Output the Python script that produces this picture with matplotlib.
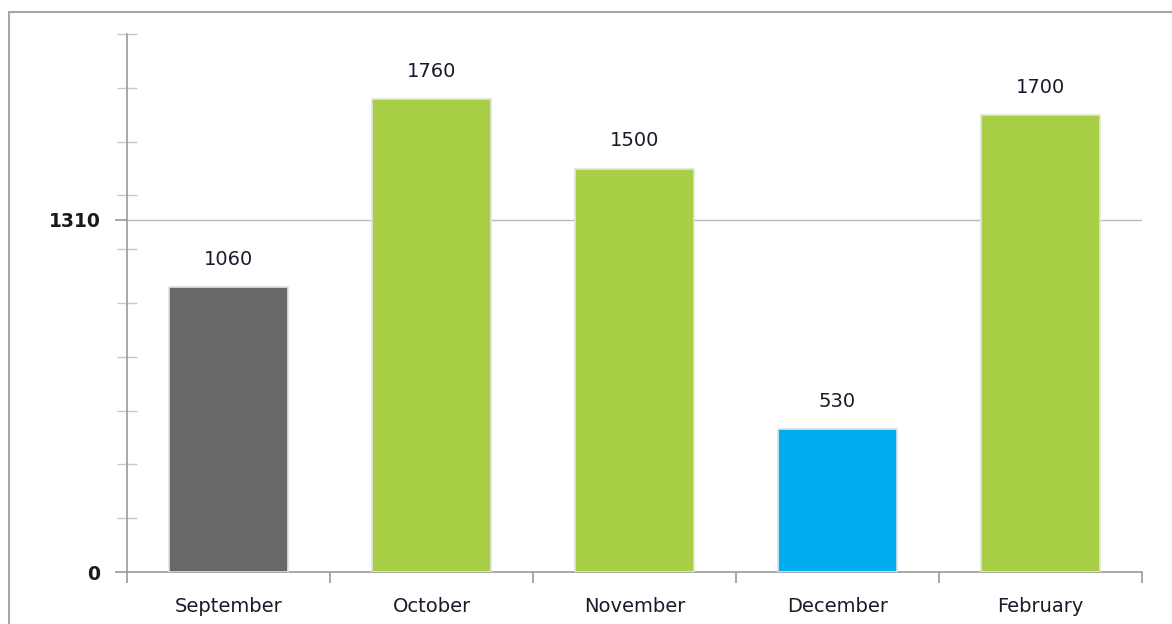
import numpy as np
import matplotlib.pyplot as plt
from matplotlib.patches import Rectangle

months = ['September', 'October', 'November', 'December', 'February']
values = [1060, 1760, 1500, 530, 1700]
colors = ['#696866', '#A9CF46', '#A9CF46', '#00ADEE', '#A9CF46']
ref_value = 1310

fig = plt.figure(figsize=(11.72, 6.24), dpi=100)
ax = fig.add_axes([127 / 1172, 52 / 624, 1015 / 1172, 538 / 624])

# outer frame
fig.patches.append(Rectangle((9.5 / 1172, -0.1), 1.2, 1 - 11.5 / 624 + 0.1,
                             transform=fig.transFigure, fill=False,
                             edgecolor='#a6a6a6', linewidth=1.5))

x = np.arange(len(months))
bars = ax.bar(x, values, width=0.59, color=colors, edgecolor='#e2e2e2',
              linewidth=1.2, zorder=3)

for xi, v in zip(x, values):
    ax.annotate(str(v), (xi, v), xytext=(0, 13), textcoords='offset points',
                ha='center', va='bottom', fontsize=14, color='#1a1a2a')

ax.set_xlim(-0.5, len(months) - 0.5)
ax.set_ylim(0, 2000)

# gridline at the reference value
ax.axhline(ref_value, color='#bcbcbc', linewidth=1.0, zorder=1)

for s in ['top', 'right']:
    ax.spines[s].set_visible(False)
for s in ['left', 'bottom']:
    ax.spines[s].set_color('#9a9a9a')
    ax.spines[s].set_linewidth(1.2)

ax.set_yticks([0, ref_value])
ax.set_yticklabels(['0', str(ref_value)], fontsize=13.5, fontweight='bold',
                   color='#1a1a1a')
ax.set_yticks(np.arange(200, 2001, 200), minor=True)
ax.tick_params(axis='y', which='major', direction='out', length=9,
               color='#9a9a9a', width=1.2, pad=10)
ax.tick_params(axis='y', which='minor', direction='inout', length=14,
               color='#c8c8c8', width=1.0)

ax.set_xticks(np.arange(-0.5, len(months), 1.0))
ax.set_xticklabels([])
ax.set_xticks(x, minor=True)
ax.set_xticklabels(months, minor=True, fontsize=14, color='#1a1a2a')
ax.tick_params(axis='x', which='major', direction='out', length=8,
               color='#9a9a9a', width=1.2)
ax.tick_params(axis='x', which='minor', length=0, pad=18)

plt.savefig('out.png', dpi=100)
